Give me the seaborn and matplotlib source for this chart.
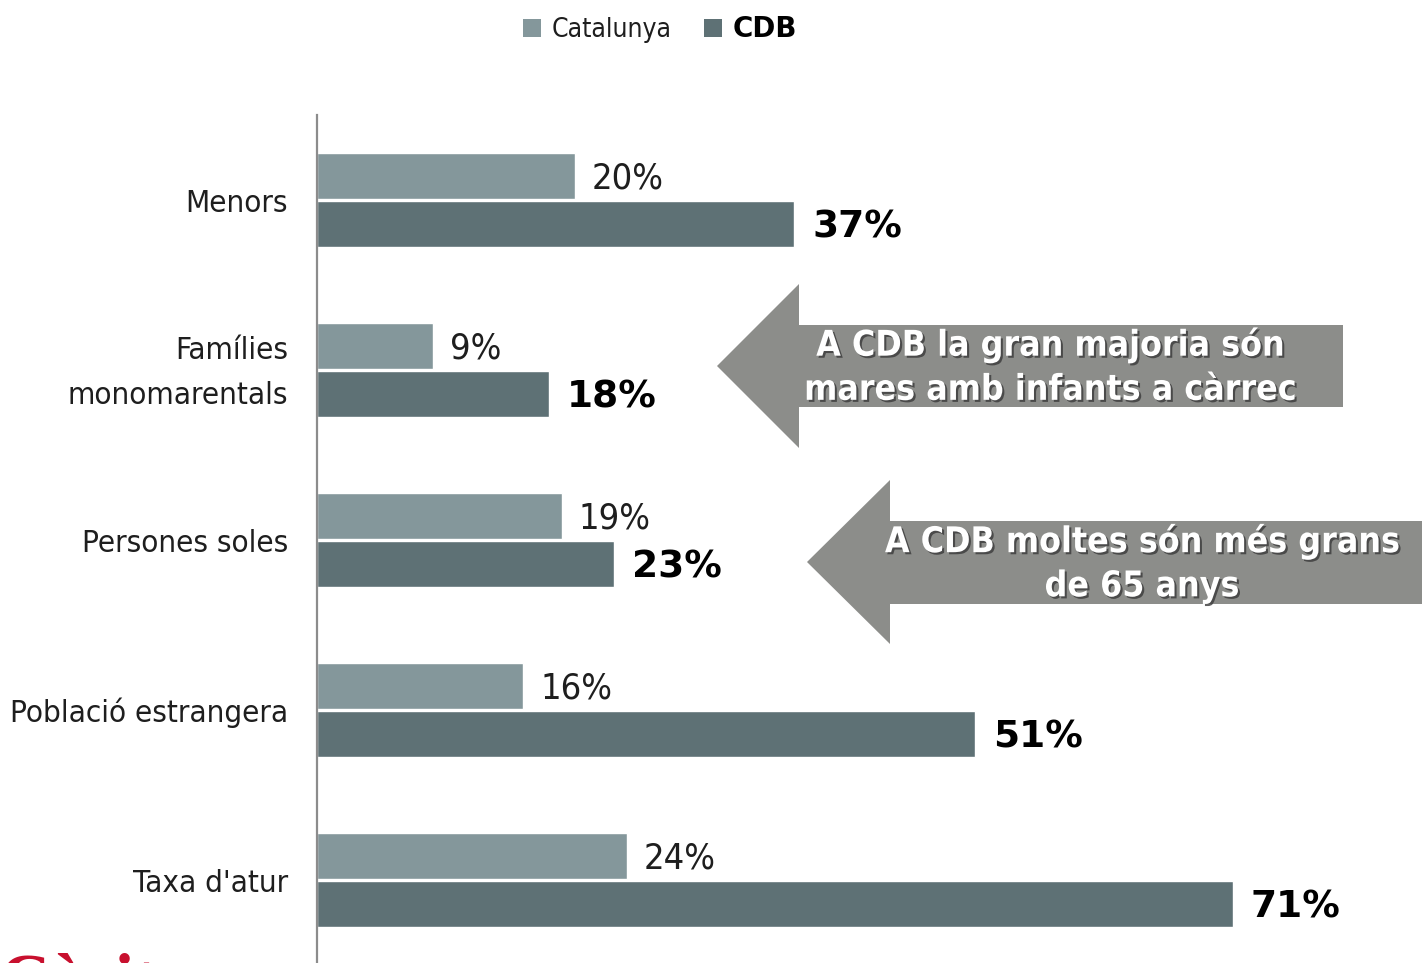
import matplotlib
matplotlib.use("Agg")
import matplotlib.pyplot as plt
from matplotlib import font_manager
from matplotlib.patches import Polygon, Patch
from matplotlib.transforms import ScaledTranslation
import matplotlib.patheffects as pe
import numpy as np
import pandas as pd
import seaborn as sns

# --- data -------------------------------------------------------------
categories = ["Menors", "Famílies\nmonomarentals", "Persones soles",
              "Població estrangera", "Taxa d'atur"]
series_names = ["Catalunya", "CDB"]
catalunya = [20, 9, 19, 16, 24]
cdb = [37, 18, 23, 51, 71]

note_top = "A CDB la gran majoria són\nmares amb infants a càrrec"
note_bottom = "A CDB moltes són més grans\nde 65 anys"

# --- fonts ------------------------------------------------------------
sns.set_style("white")
available = {f.name for f in font_manager.fontManager.ttflist}
if "Liberation Sans Narrow" in available:
    NARROW, STRETCH = "Liberation Sans Narrow", "normal"
else:
    NARROW, STRETCH = "DejaVu Sans", "condensed"
HEAVY = "DejaVu Sans"
plt.rcParams["font.family"] = [NARROW, "DejaVu Sans"]

col_cat = "#84979b"
col_cdb = "#5e7175"
text_col = "#1e1e1e"

df = pd.DataFrame({
    "categoria": categories * 2,
    "àmbit": [series_names[0]] * len(categories) + [series_names[1]] * len(categories),
    "valor": catalunya + cdb,
})

W, H = 1422, 963
fig = plt.figure(figsize=(W / 100, H / 100), dpi=100)
fig.patch.set_facecolor("white")

ax_left = 317 / W
ax_top = 1 - 115 / H
ax_bottom = 1 - 965 / H
ax = fig.add_axes([ax_left, ax_bottom, 1 - ax_left, ax_top - ax_bottom])

sns.barplot(data=df, y="categoria", x="valor", hue="àmbit", orient="h",
            palette=[col_cat, col_cdb], width=0.56, gap=0.04,
            order=categories, hue_order=series_names,
            legend=False, ax=ax, saturation=1)

px_per_unit = (575 - 317) / 20.0
ax.set_xlim(0, (W - 317) / px_per_unit)
ax.set_ylim(len(categories) - 0.5, -0.5)

# value labels: regional figure in light type, CDB figure in heavy type
labs_cat = ax.bar_label(ax.containers[0], labels=[f"{v}%" for v in catalunya],
                        padding=12, fontsize=26, family=[NARROW, "DejaVu Sans"],
                        fontstretch=STRETCH, color=text_col)
labs_cdb = ax.bar_label(ax.containers[1], labels=[f"{v}%" for v in cdb],
                        padding=13, fontsize=27, fontweight="bold",
                        family=[HEAVY], color="#000000")
for t in labs_cat:
    t.xyann = (12, -1.5)
for t in labs_cdb:
    t.xyann = (13, -3.0)

# axes styling
for s in ["top", "right", "bottom"]:
    ax.spines[s].set_visible(False)
ax.spines["left"].set_color("#8c8c8c")
ax.spines["left"].set_linewidth(1.6)
ax.set_xticks([])
ax.set_xlabel("")
ax.set_ylabel("")
ax.set_yticks(np.arange(len(categories)))
ax.set_yticklabels(categories, fontsize=22.5, color=text_col,
                   family=[NARROW, "DejaVu Sans"], fontstretch=STRETCH,
                   linespacing=1.7)
ax.tick_params(axis="y", which="major", length=0, pad=21)
ax.set_yticks(np.arange(len(categories) + 1) - 0.5, minor=True)
ax.tick_params(axis="y", which="minor", length=7, width=1.4,
               color="#8c8c8c", direction="out")

# two-line category label sits a little higher
for lbl in ax.get_yticklabels():
    if "\n" in lbl.get_text():
        lbl.set_transform(lbl.get_transform()
                          + ScaledTranslation(0, 8 / 100, fig.dpi_scale_trans))

# legend
handles = [Patch(facecolor=col_cat, edgecolor="none"),
           Patch(facecolor=col_cdb, edgecolor="none")]
leg = fig.legend(handles, series_names, loc="center", ncol=2,
                 bbox_to_anchor=(660 / W, 1 - 29 / H), frameon=False,
                 handlelength=0.7, handleheight=0.7,
                 handletextpad=0.4, columnspacing=1.2,
                 prop={"family": [NARROW, "DejaVu Sans"], "size": 19,
                       "stretch": STRETCH})
texts = leg.get_texts()
texts[0].set_color(text_col)
texts[1].set_fontweight("bold")
texts[1].set_family([HEAVY])
texts[1].set_fontstretch("normal")
texts[1].set_fontsize(20)
texts[1].set_color("#000000")


# callout arrows pointing at the chart
def callout(tip_x, tip_y, back_x, head_half, shaft_top, shaft_bot, right_x,
            label, label_x):
    pts = [(tip_x, tip_y), (back_x, tip_y - head_half), (back_x, shaft_top),
           (right_x, shaft_top), (right_x, shaft_bot),
           (back_x, shaft_bot), (back_x, tip_y + head_half)]
    pts = [(x / W, 1 - y / H) for x, y in pts]
    fig.patches.append(Polygon(pts, closed=True, facecolor="#8c8d8a",
                               edgecolor="none", transform=fig.transFigure))
    fig.text(label_x / W, 1 - ((shaft_top + shaft_bot) / 2 + 1) / H, label,
             ha="center", va="center", color="white", fontsize=25.5,
             fontweight="bold", family=[NARROW, "DejaVu Sans"],
             fontstretch=STRETCH, linespacing=1.375,
             path_effects=[pe.withSimplePatchShadow(offset=(1.5, -1.5),
                                                    shadow_rgbFace="#3a3a3a",
                                                    alpha=0.8)])


callout(717, 366, 799, 82, 325, 407, 1343, note_top, 1050)
callout(807, 562, 890, 82, 521, 604, 1422, note_bottom, 1142)

# organisation name, cut by the lower edge
fig.text(0.0, 1 - 952 / H, "Càritas", ha="left", va="top", color="#c8102e",
         fontsize=50, fontweight="bold", family=["Liberation Serif", "DejaVu Serif"])

fig.savefig("out.png", dpi=100, facecolor="white")
